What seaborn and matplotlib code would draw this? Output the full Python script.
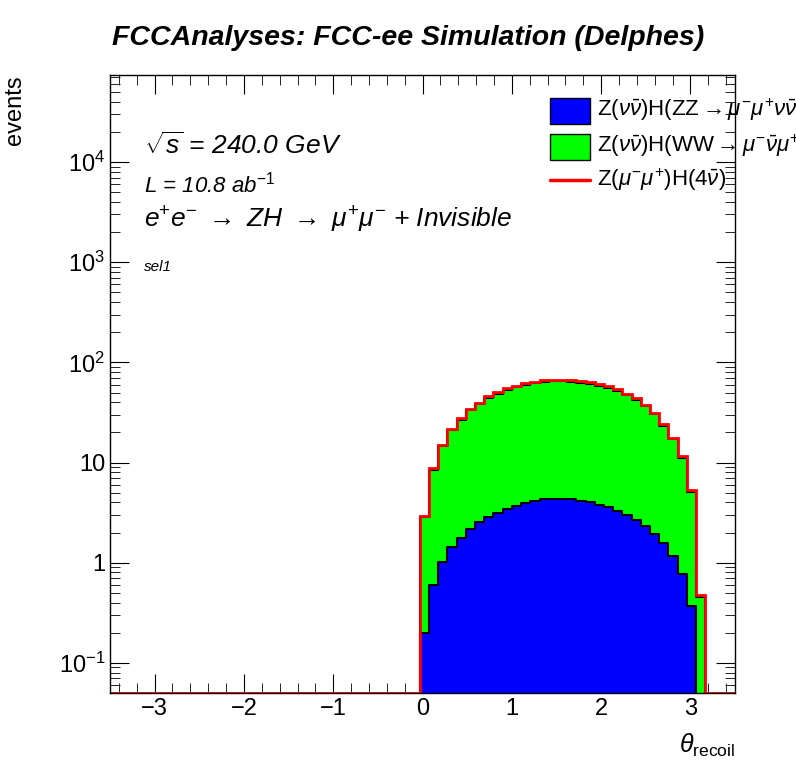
import numpy as np
import pandas as pd
import matplotlib
matplotlib.use("Agg")
import matplotlib.pyplot as plt
import seaborn as sns
from matplotlib.ticker import FixedLocator, FixedFormatter, MultipleLocator, LogLocator, NullFormatter
from matplotlib.patches import Rectangle

sns.set_style("ticks")
plt.rcParams['font.family'] = ['Liberation Sans', 'DejaVu Sans']
plt.rcParams['mathtext.fontset'] = 'custom'
plt.rcParams['mathtext.rm'] = 'Liberation Sans'
plt.rcParams['mathtext.it'] = 'Liberation Sans:italic'
plt.rcParams['text.color'] = 'black'
plt.rcParams['xtick.color'] = 'black'
plt.rcParams['ytick.color'] = 'black'
plt.rcParams['axes.edgecolor'] = 'black'

nbins = 31
width = 6.6 / 64
edges = np.arange(nbins + 1) * width

zz = [0.2, 0.6, 1.02, 1.44, 1.77, 2.15, 2.55, 2.88, 3.14, 3.44, 3.69, 3.95, 4.17, 4.3, 4.35, 4.35,
      4.3, 4.17, 4.05, 3.8, 3.57, 3.25, 2.98, 2.67, 2.34, 1.94, 1.57, 1.17, 0.78, 0.37, 0.0]
ww = [2.64, 7.85, 13.5, 19.5, 24.9, 31.0, 35.5, 41.5, 45.5, 49.9, 52.9, 55.4, 57.9, 59.8, 60.6, 60.6,
      59.7, 58.8, 56.9, 54.7, 51.9, 48.4, 44.1, 39.7, 34.0, 28.3, 21.7, 15.9, 10.3, 4.7, 0.457]
nu4 = [0.12, 0.35, 0.6, 0.85, 1.1, 1.35, 1.55, 1.8, 1.95, 2.1, 2.2, 2.3, 2.4, 2.45, 2.5, 2.5,
       2.45, 2.4, 2.35, 2.25, 2.15, 2.0, 1.85, 1.65, 1.4, 1.15, 0.9, 0.65, 0.45, 0.2, 0.02]

centers = edges[:-1] + width / 2
tot_zw = np.array(zz) + np.array(ww)
tot = tot_zw + np.array(nu4)

fig = plt.figure(figsize=(7.96, 7.72), dpi=100)
ax = fig.add_axes([110/796, 79/772, 625/796, 618/772])
ymin = 0.05
x0 = -0.03

df = pd.DataFrame({"x": centers + x0, "zz": zz, "zw": tot_zw, "tot": tot})
rng = (x0, float(edges[-1]) + x0)
sns.histplot(data=df, x="x", weights="zw", binwidth=width, binrange=rng, element="step", fill=True,
             color="#00ff00", alpha=1, edgecolor="black", linewidth=1.5, ax=ax)
sns.histplot(data=df, x="x", weights="zz", binwidth=width, binrange=rng, element="step", fill=True,
             color="#0000ff", alpha=1, edgecolor="black", linewidth=1.5, ax=ax)
full_edges = np.concatenate([[-3.5], edges + x0, [3.5]])
full_vals = np.concatenate([[ymin * 1.01], tot, [ymin * 1.01]])
ax.stairs(full_vals, full_edges, color="red", linewidth=2.0, baseline=None)

ax.set_yscale("log")
ax.set_xlim(-3.5, 3.5)
ax.set_ylim(ymin, 10**4.87)
ax.set_xlabel("")
ax.set_ylabel("")
ax.xaxis.set_major_locator(MultipleLocator(1))
ax.xaxis.set_minor_locator(MultipleLocator(0.2))
ax.yaxis.set_major_locator(FixedLocator([0.1, 1, 10, 100, 1e3, 1e4]))
ax.yaxis.set_major_formatter(FixedFormatter([r"$10^{-1}$", "1", "10", r"$10^{2}$", r"$10^{3}$", r"$10^{4}$"]))
ax.yaxis.set_minor_locator(LogLocator(subs=np.arange(2, 10)))
ax.yaxis.set_minor_formatter(NullFormatter())
ax.tick_params(which="both", direction="in", top=True, right=True, labelsize=17)
ax.tick_params(which="major", length=14)
ax.tick_params(which="minor", length=7)
for s in ax.spines.values():
    s.set_linewidth(1)

fig.text(112/796, 1 - 38/772, "FCCAnalyses: FCC-ee Simulation (Delphes)", fontsize=20.5,
         fontweight="bold", style="italic", va="center")
fig.text(0.005, 1 - 110/772, "events", fontsize=17, rotation=90, va="center")
fig.text(735/796, 1 - 745/772, r"$\theta_{\mathrm{recoil}}$", fontsize=18, ha="right", va="center")

ax.text(0.055, 0.885, r"$\sqrt{s}$ = 240.0 GeV", transform=ax.transAxes, fontsize=19, style="italic", va="center")
ax.text(0.055, 0.823, r"L = 10.8 ab$^{-1}$", transform=ax.transAxes, fontsize=16, style="italic", va="center")
ax.text(0.055, 0.765, r"e$^{+}$e$^{-}$ $\rightarrow$ ZH $\rightarrow$ $\mu^{+}\mu^{-}$ + Invisible",
        transform=ax.transAxes, fontsize=19, style="italic", va="center")
ax.text(0.055, 0.69, "sel1", transform=ax.transAxes, fontsize=11, style="italic", va="center")

labels = [r"Z($\nu\bar{\nu}$)H(ZZ$\rightarrow\mu^{-}\mu^{+}\nu\bar{\nu}$)",
          r"Z($\nu\bar{\nu}$)H(WW$\rightarrow\mu^{-}\bar{\nu}\mu^{+}\nu$)",
          r"Z($\mu^{-}\mu^{+}$)H(4$\bar{\nu}$)"]
ys = [1 - 110/772, 1 - 146/772, 1 - 180/772]
for i, (lab, y) in enumerate(zip(labels, ys)):
    if i < 2:
        fig.patches.append(Rectangle((550/796, y - 14/772), 40/796, 26/772, transform=fig.transFigure,
                                     facecolor=["#0000ff", "#00ff00"][i], edgecolor="black", lw=1))
    else:
        fig.lines.append(plt.Line2D([550/796, 590/796], [y, y], transform=fig.transFigure, color="red", lw=2.5))
    fig.text(597/796, y, lab, fontsize=16, va="center")

fig.savefig("out.png", dpi=100)
